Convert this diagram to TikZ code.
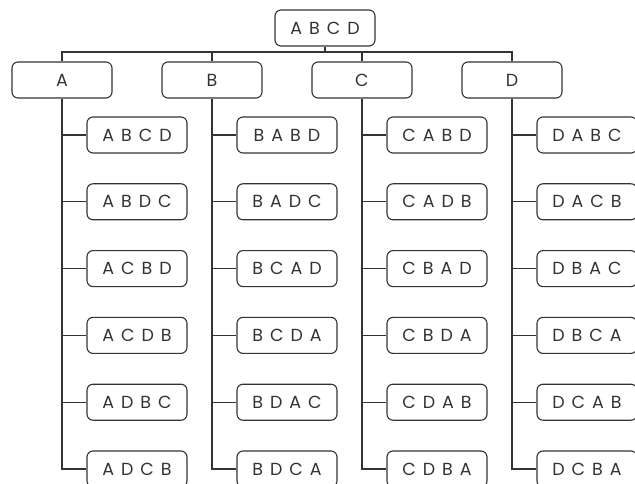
\documentclass[tikz,border=0pt]{standalone}
\usepackage{fontspec}
\setmainfont[WordSpace=1.5]{Poppins}
\definecolor{linec}{HTML}{333333}
\begin{document}
\begin{tikzpicture}[x=1pt,y=-1pt,
  box/.style={draw=linec, line width=1.1pt, rounded corners=6pt, minimum width=100pt,
    minimum height=36pt, inner sep=0pt, text=linec, font=\fontsize{17.5}{17.5}\selectfont},
  conn/.style={draw=linec, line width=1.1pt}]
\useasboundingbox (0,0) rectangle (635,484);
\node[box] (root) at (325,28) {A B C D};
\foreach \n/\t [count=\i from 0] in {nA/A,nB/B,nC/C,nD/D}{
  \node[box] (\n) at ({62+150*\i},80) {\t};
}
\coordinate (bj) at (325,52);
\draw[conn] (root.south) -- (bj);
\draw[conn] (nA.north) |- (bj) -| (nD.north);
\draw[conn] (nB.north) -- (nB.north |- bj);
\draw[conn] (nC.north) -- (nC.north |- bj);
\foreach \p/\i/\lst in {A/0/{A B C D,A B D C,A C B D,A C D B,A D B C,A D C B},
                        B/1/{B A B D,B A D C,B C A D,B C D A,B D A C,B D C A},
                        C/2/{C A B D,C A D B,C B A D,C B D A,C D A B,C D B A},
                        D/3/{D A B C,D A C B,D B A C,D B C A,D C A B,D C B A}}{
  \foreach \t [count=\j from 0] in \lst {
    \node[box] (c\p\j) at ({137+150*\i},{135+66.8*\j}) {\t};
    \draw[conn] (n\p.south) |- (c\p\j.west);
  }
}
\end{tikzpicture}
\end{document}
